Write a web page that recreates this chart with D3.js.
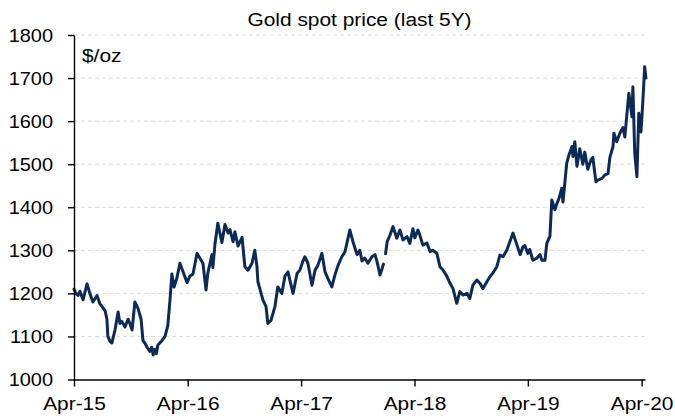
<!DOCTYPE html>
<html>
<head>
<meta charset="utf-8">
<script src="https://cdn.jsdelivr.net/npm/d3@7"></script>
<style>
body { margin: 0; background: #fff; }
text { font-family: "Liberation Sans", Arial, sans-serif; fill: #000; }
</style>
</head>
<body>
<svg id="chart"></svg>
<script>
// gold spot price (null = missing quotes)
const dates = [
  "2015-04-01","2015-04-07","2015-04-14","2015-04-20","2015-04-30","2015-05-13","2015-05-22","2015-06-01",
  "2015-06-14","2015-06-24","2015-06-30","2015-07-10","2015-07-16","2015-07-19","2015-07-26","2015-08-01",
  "2015-08-11","2015-08-21","2015-08-27","2015-09-02","2015-09-12","2015-09-22","2015-09-28","2015-10-05",
  "2015-10-14","2015-10-24","2015-11-03","2015-11-09","2015-11-15","2015-11-22","2015-12-01","2015-12-07",
  "2015-12-12","2015-12-17","2015-12-22","2015-12-27","2016-01-09","2016-01-19","2016-01-28","2016-02-04",
  "2016-02-10","2016-02-17","2016-02-26","2016-03-07","2016-03-17","2016-03-30","2016-04-08","2016-04-18",
  "2016-05-01","2016-05-10","2016-05-20","2016-05-30","2016-06-05","2016-06-18","2016-06-21","2016-06-28",
  "2016-07-07","2016-07-20","2016-07-30","2016-08-09","2016-08-15","2016-08-25","2016-08-31","2016-09-10",
  "2016-09-23","2016-10-02","2016-10-12","2016-10-25","2016-11-03","2016-11-10","2016-11-13","2016-11-26",
  "2016-11-29","2016-12-09","2016-12-15","2016-12-25","2017-01-07","2017-01-16","2017-01-29","2017-02-08",
  "2017-02-18","2017-02-24","2017-03-06","2017-03-19","2017-03-28","2017-04-07","2017-04-13","2017-04-23",
  "2017-05-06","2017-05-16","2017-05-25","2017-06-07","2017-06-17","2017-06-26","2017-07-09","2017-07-19",
  "2017-07-29","2017-08-10","2017-08-20","2017-08-30","2017-09-05","2017-09-15","2017-09-28","2017-10-07",
  "2017-10-14","2017-10-23","2017-11-02","2017-11-15","2017-11-25","2017-12-01","2017-12-11","2017-12-18",
  "2017-12-22","2017-12-26","2017-12-29","2018-01-03","2018-01-12","2018-01-22","2018-02-03",
  "2018-02-13","2018-02-23","2018-03-08","2018-03-17","2018-03-27","2018-04-02","2018-04-12","2018-04-18",
  "2018-04-28","2018-05-11","2018-05-21","2018-05-30","2018-06-12","2018-06-22","2018-07-01","2018-07-14",
  "2018-07-24","2018-08-03","2018-08-15","2018-08-25","2018-09-04","2018-09-17","2018-09-26","2018-10-06",
  "2018-10-19","2018-10-29","2018-11-07","2018-11-20","2018-11-30","2018-12-09","2018-12-22","2019-01-01",
  "2019-01-11","2019-01-23","2019-02-02","2019-02-12","2019-02-25","2019-03-07","2019-03-16","2019-03-22",
  "2019-04-01","2019-04-07","2019-04-17","2019-04-30","2019-05-10","2019-05-16","2019-05-26","2019-06-01",
  "2019-06-11","2019-06-17","2019-06-27","2019-07-03","2019-07-10","2019-07-19","2019-07-23","2019-08-04",
  "2019-08-11","2019-08-21","2019-08-24","2019-08-30","2019-09-06","2019-09-15","2019-09-25","2019-10-01",
  "2019-10-11","2019-10-21","2019-10-27","2019-11-06","2019-11-12","2019-11-25","2019-12-05","2019-12-15",
  "2019-12-21","2019-12-31","2020-01-03","2020-01-12","2020-01-22","2020-02-01","2020-02-07","2020-02-14",
  "2020-02-20","2020-03-01","2020-03-04","2020-03-10","2020-03-17","2020-03-23","2020-03-30","2020-04-05",
  "2020-04-11","2020-04-15"
];
const prices = [
  1210,1200,1195,1205,1185,1222,1200,1180,
  1195,1175,1170,1160,1140,1100,1088,1085,
  1115,1157,1130,1135,1122,1140,1130,1115,
  1180,1165,1140,1090,1085,1075,1065,1075,
  1057,1070,1060,1080,1090,1100,1125,1185,
  1245,1215,1235,1270,1250,1225,1240,1245,
  1293,1282,1270,1208,1248,1290,1260,1316,
  1363,1318,1360,1340,1348,1320,1343,1310,
  1330,1262,1254,1270,1300,1262,1227,1193,
  1185,1170,1130,1137,1170,1215,1200,1240,
  1250,1230,1200,1246,1254,1275,1285,1270,
  1219,1254,1265,1293,1250,1235,1215,1243,
  1265,1285,1296,1328,1347,1320,1290,1300,
  1275,1282,1270,1285,1290,1275,1243,1258,
  1268,null,1292,1320,1335,1355,1328,
  1347,1324,1332,1316,1350,1329,1347,1336,
  1312,1317,1297,1300,1293,1262,1255,1240,
  1224,1211,1177,1204,1196,1200,1188,1219,
  1231,1223,1211,1227,1239,1247,1262,1289,
  1285,1300,1320,1340,1312,1290,1308,1311,
  1293,1302,1277,1282,1290,1277,1277,1316,
  1333,1417,1394,1408,1420,1444,1412,1502,
  1521,1541,1518,1552,1495,1536,1500,1528,
  1488,1510,1516,1459,1463,1467,1475,1478,
  1516,1541,1572,1552,1572,1585,1563,1618,
  1665,1610,1680,1525,1471,1618,1575,1645,
  1726,1700
];
const yTicks = [1000, 1100, 1200, 1300, 1400, 1500, 1600, 1700, 1800];
const xTickDates = ["2015-04-01", "2016-04-01", "2017-04-01", "2018-04-01", "2019-04-01", "2020-04-01"];
const xTickLabels = ["Apr-15", "Apr-16", "Apr-17", "Apr-18", "Apr-19", "Apr-20"];

const width = 675, height = 420;
const parse = d3.timeParse("%Y-%m-%d");
const data = dates.map((d, i) => ({ date: parse(d), value: prices[i] }));

const svg = d3.select("#chart").attr("width", width).attr("height", height);

const x = d3.scaleTime().domain([parse("2015-04-01"), parse("2020-04-12")]).range([74, 645]);
const y = d3.scaleLinear().domain([1000, 1800]).range([379.5, 35]);

// text in the reference is a bit wider than Arial
const stretch = 1.1;

// gridlines
svg.append("g")
  .selectAll("line")
  .data(yTicks.filter(v => v > 1000))
  .join("line")
  .attr("x1", x.range()[0]).attr("x2", x.range()[1])
  .attr("y1", d => y(d)).attr("y2", d => y(d))
  .attr("stroke", "#dcdcdc")
  .attr("stroke-dasharray", "4,3")
  .attr("stroke-width", 1);

// price line
const line = d3.line()
  .defined(d => d.value !== null)
  .x(d => x(d.date))
  .y(d => y(d.value));

svg.append("path")
  .datum(data)
  .attr("fill", "none")
  .attr("stroke", "#0b2a57")
  .attr("stroke-width", 3)
  .attr("stroke-linejoin", "round")
  .attr("stroke-linecap", "round")
  .attr("d", line);

// axes
const yAxis = svg.append("g")
  .attr("transform", `translate(${x.range()[0]},0)`)
  .call(d3.axisLeft(y).tickValues(yTicks).tickFormat(d3.format("d")).tickSize(6).tickSizeOuter(0));
yAxis.selectAll("text")
  .attr("x", 0)
  .attr("transform", `translate(-21,0) scale(1.05,1)`)
  .style("font-size", "19px");

const xAxis = svg.append("g")
  .attr("transform", `translate(0,${y(1000)})`)
  .call(d3.axisBottom(x)
    .tickValues(xTickDates.map(parse))
    .tickFormat((d, i) => xTickLabels[i])
    .tickSize(7)
    .tickSizeOuter(0));
xAxis.selectAll("text")
  .attr("y", 0).attr("dy", 0)
  .attr("transform", `translate(0,30.5) scale(${stretch},1)`)
  .style("font-size", "19px");

svg.selectAll(".domain, .tick line").attr("stroke", "#000").attr("stroke-width", 1.4);

// title and unit
svg.append("text")
  .attr("text-anchor", "middle")
  .attr("transform", `translate(359.5,26) scale(${stretch},1)`)
  .style("font-size", "19px")
  .text("Gold spot price (last 5Y)");

svg.append("text")
  .attr("transform", `translate(82,62) scale(${stretch},1)`)
  .style("font-size", "19px")
  .text("$/oz");
</script>
</body>
</html>
